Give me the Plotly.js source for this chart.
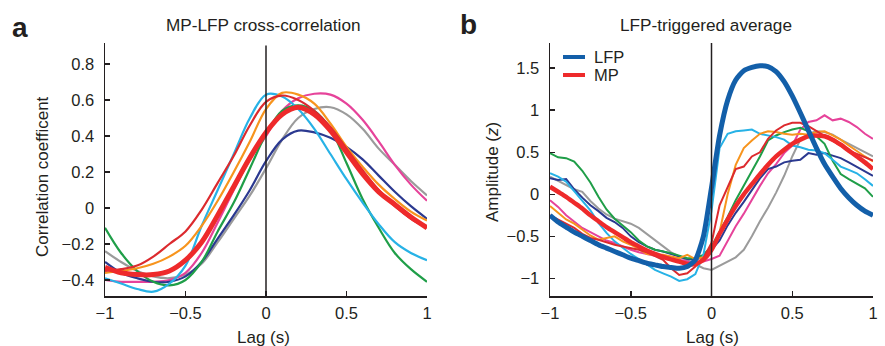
<!DOCTYPE html>
<html>
<head>
<meta charset="utf-8">
<script src="https://cdn.plot.ly/plotly-3.0.1.min.js"></script>
<style>
html,body{margin:0;padding:0;background:#fff;}
#chart{width:885px;height:346px;}
</style>
</head>
<body>
<div id="chart"></div>
<script>
// ---------- DATA ----------
// Panel a: MP-LFP cross-correlation (lag in s)
const lagA = [-1,-0.9,-0.8,-0.7,-0.6,-0.5,-0.4,-0.3,-0.2,-0.1,0,0.1,0.2,0.3,0.4,0.5,0.6,0.7,0.8,0.9,1];
const corrRedThin = [-0.35,-0.34,-0.32,-0.27,-0.20,-0.13,-0.01,0.14,0.29,0.46,0.59,0.625,0.60,0.54,0.45,0.33,0.21,0.10,0.01,-0.06,-0.11];
const corrCyan    = [-0.39,-0.42,-0.45,-0.465,-0.42,-0.32,-0.10,0.10,0.30,0.50,0.63,0.62,0.55,0.44,0.30,0.16,0.03,-0.09,-0.19,-0.25,-0.29];
const corrOrange  = [-0.36,-0.35,-0.335,-0.31,-0.27,-0.21,-0.10,0.04,0.20,0.37,0.55,0.64,0.63,0.58,0.47,0.34,0.23,0.13,0.05,-0.02,-0.07];
const corrMagenta = [-0.40,-0.41,-0.41,-0.41,-0.40,-0.36,-0.25,-0.08,0.10,0.27,0.40,0.54,0.61,0.635,0.63,0.58,0.49,0.37,0.24,0.13,0.04];
const corrGray    = [-0.24,-0.30,-0.35,-0.38,-0.39,-0.37,-0.31,-0.19,-0.06,0.07,0.22,0.38,0.50,0.55,0.56,0.52,0.44,0.33,0.24,0.15,0.07];
const corrNavy    = [-0.30,-0.36,-0.39,-0.41,-0.41,-0.38,-0.30,-0.17,-0.04,0.10,0.26,0.38,0.43,0.42,0.39,0.34,0.27,0.18,0.09,0.01,-0.06];
const corrGreen   = [-0.11,-0.25,-0.35,-0.41,-0.43,-0.40,-0.30,-0.13,0.03,0.22,0.41,0.54,0.57,0.54,0.44,0.25,0.05,-0.11,-0.25,-0.34,-0.41];
const corrMean    = [-0.33,-0.36,-0.37,-0.37,-0.35,-0.29,-0.19,-0.04,0.12,0.28,0.42,0.52,0.56,0.52,0.43,0.31,0.19,0.09,0.02,-0.05,-0.11];

// Panel b: LFP-triggered average (lag in s)
const lagB = [-1,-0.95,-0.9,-0.85,-0.8,-0.75,-0.7,-0.65,-0.6,-0.55,-0.5,-0.45,-0.4,-0.35,-0.3,-0.25,-0.2,-0.15,-0.1,-0.05,0,
              0.05,0.1,0.15,0.2,0.25,0.3,0.35,0.4,0.45,0.5,0.55,0.6,0.65,0.7,0.75,0.8,0.85,0.9,0.95,1];
const ampLFP = [-0.25,-0.33,-0.39,-0.45,-0.50,-0.55,-0.60,-0.64,-0.68,-0.72,-0.76,-0.79,-0.82,-0.84,-0.86,-0.87,-0.88,-0.86,-0.78,-0.50,0.08,
                0.70,1.12,1.36,1.47,1.51,1.53,1.52,1.46,1.34,1.17,0.97,0.76,0.55,0.36,0.21,0.07,-0.04,-0.13,-0.20,-0.25];
const ampMP  = [0.09,0.03,-0.03,-0.10,-0.17,-0.25,-0.32,-0.39,-0.45,-0.51,-0.57,-0.62,-0.67,-0.71,-0.745,-0.775,-0.80,-0.83,-0.83,-0.78,-0.66,
                -0.47,-0.30,-0.14,0.0,0.12,0.24,0.35,0.45,0.53,0.60,0.65,0.69,0.70,0.69,0.65,0.59,0.52,0.45,0.38,0.30];
const ampCyan = [0.25,0.21,0.15,0.04,-0.07,-0.19,-0.34,-0.46,-0.56,-0.64,-0.71,-0.77,-0.83,-0.90,-0.94,-0.98,-1.03,-1.01,-0.95,-0.72,-0.20,
                 0.55,0.72,0.75,0.76,0.77,0.72,0.70,0.68,0.65,0.58,0.56,0.53,0.52,0.49,0.41,0.33,0.29,0.25,0.18,0.10];
const ampGreen = [0.49,0.44,0.43,0.39,0.28,0.14,-0.03,-0.18,-0.29,-0.37,-0.45,-0.55,-0.62,-0.66,-0.68,-0.70,-0.73,-0.76,-0.76,-0.72,-0.62,
                  -0.45,-0.27,-0.07,0.10,0.28,0.45,0.64,0.70,0.74,0.77,0.79,0.75,0.69,0.60,0.40,0.24,0.18,0.13,0.07,-0.03];
const ampNavy = [0.19,0.17,0.18,0.06,-0.04,-0.13,-0.20,-0.28,-0.33,-0.40,-0.50,-0.57,-0.62,-0.66,-0.68,-0.71,-0.74,-0.77,-0.78,-0.74,-0.66,
                 -0.55,-0.37,-0.22,-0.09,0.05,0.19,0.30,0.33,0.38,0.40,0.41,0.49,0.47,0.49,0.46,0.43,0.38,0.33,0.28,0.22];
const ampGray = [0.21,0.16,0.11,0.06,0.03,-0.08,-0.17,-0.24,-0.29,-0.32,-0.35,-0.40,-0.47,-0.54,-0.62,-0.69,-0.74,-0.79,-0.84,-0.88,-0.90,
                 -0.85,-0.80,-0.75,-0.66,-0.50,-0.32,-0.16,0.02,0.22,0.45,0.65,0.72,0.75,0.74,0.71,0.65,0.60,0.55,0.50,0.45];
const ampMagenta = [-0.07,-0.15,-0.25,-0.33,-0.40,-0.45,-0.50,-0.55,-0.58,-0.62,-0.66,-0.69,-0.71,-0.73,-0.76,-0.77,-0.78,-0.80,-0.82,-0.80,-0.77,
                    -0.73,-0.55,-0.38,-0.23,-0.06,0.10,0.25,0.36,0.49,0.58,0.77,0.86,0.88,0.94,0.88,0.90,0.86,0.80,0.72,0.66];
const ampOrange = [-0.14,-0.22,-0.30,-0.35,-0.42,-0.49,-0.54,-0.52,-0.50,-0.56,-0.60,-0.65,-0.71,-0.72,-0.72,-0.74,-0.76,-0.72,-0.77,-0.75,-0.68,
                   -0.45,0.0,0.35,0.55,0.64,0.72,0.75,0.74,0.72,0.71,0.72,0.71,0.74,0.75,0.70,0.65,0.58,0.51,0.45,0.39];
const ampRedThin = [-0.25,-0.30,-0.35,-0.40,-0.47,-0.52,-0.54,-0.57,-0.60,-0.62,-0.64,-0.66,-0.69,-0.74,-0.78,-0.88,-0.96,-0.94,-0.86,-0.76,-0.58,
                    -0.13,0.09,0.30,0.33,0.45,0.50,0.66,0.76,0.82,0.85,0.85,0.81,0.75,0.70,0.64,0.58,0.52,0.48,0.44,0.40];

const tickValsLag = [-1,-0.5,0,0.5,1];
const legendNames = ['LFP','MP'];

// ---------- STYLE ----------
const C = {
  navy:'#2b3990', cyan:'#27b2e6', green:'#1f9e48', magenta:'#e6439a',
  gray:'#9b9b9b', orange:'#f7941d', redThin:'#dc2a2e', red:'#ee2a2b', blue:'#135fa9'
};
const W = 885, H = 346;
const px = x => x / W, py = y => 1 - y / H;
const FONT = 'Liberation Sans, Arial, Helvetica, sans-serif';
const INK = '#231f20';

function lineA(y, color, w, shape){
  return {x: lagA, y: y, xaxis:'x', yaxis:'y', type:'scatter', mode:'lines',
          line:{color: color, width: w, shape: shape||'spline', smoothing:1}, showlegend:false, hoverinfo:'skip'};
}
function lineB(y, color, w, shape){
  return {x: lagB, y: y, xaxis:'x2', yaxis:'y2', type:'scatter', mode:'lines',
          line:{color: color, width: w, shape: shape||'linear', smoothing:0.6}, showlegend:false, hoverinfo:'skip'};
}

const traces = [
  lineA(corrGray, C.gray, 2.2),
  lineA(corrMagenta, C.magenta, 2.2),
  lineA(corrNavy, C.navy, 2.2),
  lineA(corrGreen, C.green, 2.2),
  lineA(corrCyan, C.cyan, 2.2),
  lineA(corrOrange, C.orange, 2.2),
  lineA(corrRedThin, C.redThin, 2.2),
  lineA(corrMean, C.red, 5),

  lineB(ampGray, C.gray, 2),
  lineB(ampMagenta, C.magenta, 2),
  lineB(ampNavy, C.navy, 2),
  lineB(ampGreen, C.green, 2),
  lineB(ampCyan, C.cyan, 2),
  lineB(ampOrange, C.orange, 2),
  lineB(ampRedThin, C.redThin, 2),
  lineB(ampMP, C.red, 4.5, 'spline'),
  lineB(ampLFP, C.blue, 5, 'spline')
];

const axisCommon = {
  showline:true, linecolor:INK, linewidth:1.5, mirror:false,
  ticks:'inside', ticklen:5, tickwidth:1.5, tickcolor:INK,
  showgrid:false, zeroline:false, fixedrange:true,
  tickfont:{family:FONT, size:16.5, color:INK}
};
const yTop = py(43), yBot = py(296);

const layout = {
  width:W, height:H, margin:{l:0,r:0,t:0,b:0},
  paper_bgcolor:'#ffffff', plot_bgcolor:'#ffffff',
  showlegend:false,
  font:{family:FONT, size:16, color:INK},
  xaxis: Object.assign({}, axisCommon, {domain:[px(105), px(427)], range:[-1,1], tickvals:tickValsLag, anchor:'y', ticklabelstandoff:2}),
  yaxis: Object.assign({}, axisCommon, {domain:[yBot, yTop], range:[-0.489, 0.917], dtick:0.2, tick0:0, anchor:'x', ticklabelstandoff:6}),
  xaxis2: Object.assign({}, axisCommon, {domain:[px(550), px(873)], range:[-1,1], tickvals:tickValsLag, anchor:'y2', ticklabelstandoff:2}),
  yaxis2: Object.assign({}, axisCommon, {domain:[yBot, yTop], range:[-1.21, 1.80], dtick:0.5, tick0:0, anchor:'x2', ticklabelstandoff:6}),
  shapes: [
    {type:'line', xref:'x', yref:'y domain', x0:0, x1:0, y0:0, y1:0.99, line:{color:INK, width:1.5}},
    {type:'line', xref:'x2', yref:'y2 domain', x0:0, x1:0, y0:0, y1:1, line:{color:INK, width:1.5}},
    // legend samples
    {type:'line', xref:'paper', yref:'paper', x0:px(563), x1:px(585), y0:py(57), y1:py(57), line:{color:C.blue, width:4}},
    {type:'line', xref:'paper', yref:'paper', x0:px(563), x1:px(585), y0:py(75), y1:py(75), line:{color:C.red, width:4}}
  ],
  annotations: [
    {text:'<b>a</b>', x:px(20), y:py(28), xref:'paper', yref:'paper', showarrow:false, xanchor:'center', yanchor:'middle', font:{family:FONT, size:28, color:INK}},
    {text:'<b>b</b>', x:px(468), y:py(25), xref:'paper', yref:'paper', showarrow:false, xanchor:'center', yanchor:'middle', font:{family:FONT, size:28, color:INK}},
    {text:'MP-LFP cross-correlation', x:px(263), y:py(25), xref:'paper', yref:'paper', showarrow:false, xanchor:'center', yanchor:'middle', font:{family:FONT, size:17.2, color:INK}},
    {text:'LFP-triggered average', x:px(706), y:py(25), xref:'paper', yref:'paper', showarrow:false, xanchor:'center', yanchor:'middle', font:{family:FONT, size:17.2, color:INK}},
    {text:'Lag (s)', x:px(263), y:py(337), xref:'paper', yref:'paper', showarrow:false, xanchor:'center', yanchor:'middle', font:{family:FONT, size:17, color:INK}},
    {text:'Lag (s)', x:px(712), y:py(337), xref:'paper', yref:'paper', showarrow:false, xanchor:'center', yanchor:'middle', font:{family:FONT, size:17, color:INK}},
    {text:'Correlation coefficent', x:px(42), y:py(177), xref:'paper', yref:'paper', showarrow:false, textangle:-90, xanchor:'center', yanchor:'middle', font:{family:FONT, size:17, color:INK}},
    {text:'Amplitude (<i>z</i>)', x:px(492), y:py(172), xref:'paper', yref:'paper', showarrow:false, textangle:-90, xanchor:'center', yanchor:'middle', font:{family:FONT, size:17, color:INK}},
    {text:legendNames[0], x:px(592), y:py(57), xref:'paper', yref:'paper', showarrow:false, xanchor:'left', yanchor:'middle', font:{family:FONT, size:16.5, color:INK}},
    {text:legendNames[1], x:px(592), y:py(75), xref:'paper', yref:'paper', showarrow:false, xanchor:'left', yanchor:'middle', font:{family:FONT, size:16.5, color:INK}}
  ]
};

Plotly.newPlot('chart', traces, layout, {staticPlot:true, displayModeBar:false});
</script>
</body>
</html>
